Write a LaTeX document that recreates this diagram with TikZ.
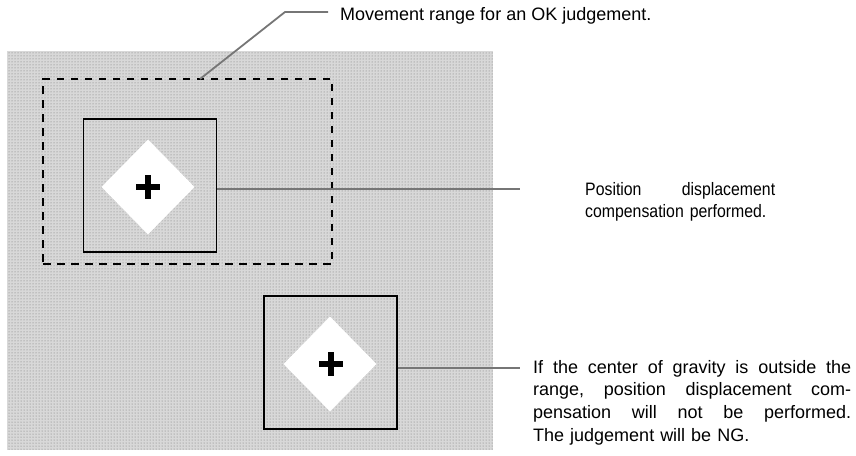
\documentclass[tikz,border=0pt]{standalone}
\usepackage{fontspec}
\setmainfont{Liberation Sans}
\newfontfamily\notenarrow[FakeStretch=0.88]{Liberation Sans}
\usetikzlibrary{positioning,shapes.geometric,calc,patterns}
\definecolor{screen}{HTML}{D8D8D8}
\definecolor{leadc}{HTML}{767676}
\tikzset{
  field/.style={fill=screen,draw=none},
  grain/.style={pattern=dots,pattern color=black!55},
  okrange/.style={draw=black,line width=2.8pt,dash pattern=on 7.5pt off 6.5pt,minimum width=289pt,minimum height=185pt,inner sep=0pt},
  model/.style={draw=black,line width=1.3pt,minimum width=133pt,minimum height=133pt,inner sep=0pt},
  piece/.style={diamond,fill=white,draw=none,minimum width=93pt,minimum height=95pt,inner sep=0pt},
  cog/.style={line width=6pt},
  leader/.style={leadc,line width=1.8pt},
  note/.style={font=\fontsize{18}{22.6}\selectfont,inner sep=0pt,align=left},
}
\newcommand{\gravmark}[1]{%
  \draw[cog] ($(#1)+(-12,0)$) -- ($(#1)+(12,0)$);
  \draw[cog] ($(#1)+(0,-12)$) -- ($(#1)+(0,12)$);}
\newcommand{\spreadline}[2]{\leavevmode\hbox to #1{#2}}

\begin{document}
\begin{tikzpicture}[x=1pt,y=-1pt]
  \useasboundingbox (0,0) rectangle (856,455);
  % screen area
  \fill[field] (7,51) rectangle (493,450);
  \fill[grain] (7,51) rectangle (493,450);
  \node[okrange] (okr) at (187.5,171.5) {};
  % registered model and its measured position
  \node[model] (boxa) at (150,185.5) {};
  \node[piece] (pca) at (148,187) {};
  \coordinate (cga) at (148,187);
  \gravmark{cga}
  \node[model] (boxb) at (330.5,362.5) {};
  \node[piece] (pcb) at (330,364) {};
  \coordinate (cgb) at (331,364);
  \gravmark{cgb}
  % leaders
  \coordinate (hook) at (200,79);
  \coordinate (bend) at (285,12);
  \coordinate (enda) at (328,12);
  \draw[leader] (hook) -- (bend) -- (enda);
  \coordinate (endb) at (520,189);
  \draw[leader] (boxa.east |- 0,189) -- (endb);
  \coordinate (endc) at (520,368);
  \draw[leader] (boxb.east |- 0,368) -- (endc);
  % notes
  \node[note,anchor=base west] (nta) at (340,20.5) {Movement range for an OK judgement.};
  \node[note,anchor=north west,text width=190pt] (ntb) at (585,182)
    {\notenarrow\spreadline{190pt}{Position\hfill displacement}\\compensation performed.};
  \node[note,anchor=north west,text width=318pt] (ntc) at (533,360)
    {\spreadline{318pt}{If\hfill the\hfill center\hfill of\hfill gravity\hfill is\hfill outside\hfill the}\\
     \spreadline{318pt}{range,\hfill position\hfill displacement\hfill com-}\\
     \spreadline{318pt}{pensation\hfill will\hfill not\hfill be\hfill performed.}\\
     The judgement will be NG.};
\end{tikzpicture}
\end{document}
